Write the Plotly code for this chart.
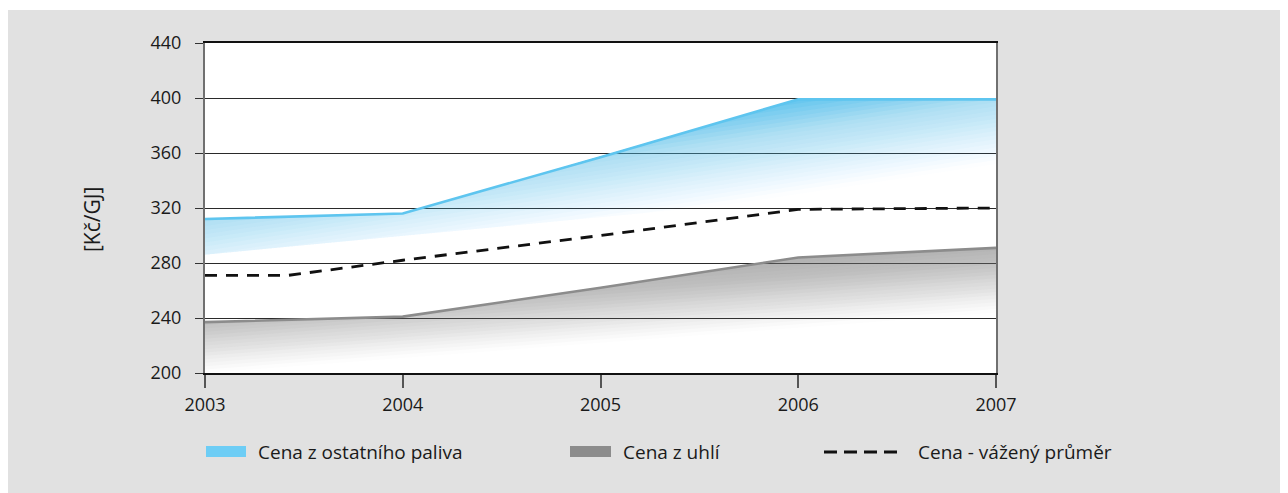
import numpy as np
import plotly.graph_objects as go

# ---------------- data ----------------
years = [2003, 2004, 2005, 2006, 2007]
year_labels = ["2003", "2004", "2005", "2006", "2007"]
price_other = [312, 316, 357, 399, 399]      # Cena z ostatního paliva
price_coal = [237, 241, 262, 284, 291]       # Cena z uhlí
avg_years = [2003, 2003.42, 2004, 2005, 2006, 2007]
price_avg = [271, 271, 282, 300, 319, 320]   # Cena - vážený průměr
y_ticks = [200, 240, 280, 320, 360, 400, 440]
legend_names = ["Cena z ostatního paliva", "Cena z uhlí", "Cena - vážený průměr"]
axis_title = "[Kč/GJ]"

# ---------------- styling ----------------
FONT = "Open Sans"
BLUE = "#5ec5ef"
GRAY = "#8c8c8c"
OFF = 8                     # page body margin of the browser
W, H = 1280, 485
ML, MT = 205 - OFF, 43 - OFF
MR = W - (996 - OFF)
MB = H - (373 - OFF)
PW, PH = W - ML - MR, H - MT - MB


def px_x(px):
    return (px - OFF - ML) / PW


def px_y(py):
    return (H - MB - (py - OFF)) / PH


fig = go.Figure()


def gradient_band(line_y, floor_ends, iso_ends, d_knots, a_knots, rgb, dstep, dmax):
    """Soft diagonal gradient under a line, built from nested translucent fills."""
    xs = np.linspace(years[0], years[-1], 201)
    top = np.interp(xs, years, line_y)
    floor = np.interp(xs, [years[0], years[-1]], floor_ends)
    iso = np.interp(xs, [years[0], years[-1]], iso_ends)
    ds = np.arange(0, dmax + 1e-9, dstep)
    prev = 0.0
    for d in ds:
        dm = min(d + 0.5 * dstep, dmax)
        target = float(np.interp(dm, d_knots, a_knots))
        a = 1 - (1 - target) / (1 - prev)
        prev = target
        if a <= 0.002:
            continue
        low = np.clip(iso + d, floor, top)
        px = np.concatenate([xs, xs[::-1]])
        py = np.concatenate([low, top[::-1]])
        fig.add_trace(go.Scatter(
            x=px, y=py, mode="lines", line=dict(width=0), fill="toself",
            fillcolor=f"rgba({rgb[0]},{rgb[1]},{rgb[2]},{a:.4f})",
            showlegend=False, hoverinfo="skip"))


# blue soft band
gradient_band(price_other, [286, 340], [265, 352],
              [0, 21, 47, 69, 80], [0, 0.19, 0.45, 0.9, 0.92],
              (86, 193, 238), 3, 78)
# gray soft band
gradient_band(price_coal, [200, 244], [200, 244],
              [0, 37, 48, 80], [0, 0.44, 0.52, 0.52],
              (125, 125, 125), 2.5, 55)

# lines
fig.add_trace(go.Scatter(x=years, y=price_other, mode="lines", name=legend_names[0],
                         line=dict(color=BLUE, width=2.6), showlegend=False))
fig.add_trace(go.Scatter(x=years, y=price_coal, mode="lines", name=legend_names[1],
                         line=dict(color=GRAY, width=2.6), showlegend=False))
fig.add_trace(go.Scatter(x=avg_years, y=price_avg, mode="lines", name=legend_names[2],
                         line=dict(color="#111111", width=2.8, dash="12px,9px"),
                         showlegend=False))

shapes = [
    # page gray background
    dict(type="rect", xref="paper", yref="paper", x0=px_x(0), x1=px_x(W + 20),
         y0=px_y(H + 20), y1=px_y(10), fillcolor="#e1e1e1", line=dict(width=0),
         layer="below"),
    # white plot area
    dict(type="rect", xref="paper", yref="paper", x0=0, x1=1, y0=0, y1=1,
         fillcolor="white", line=dict(width=0), layer="below"),
    # legend keys
    dict(type="rect", xref="paper", yref="paper", x0=px_x(206), x1=px_x(246),
         y0=px_y(457), y1=px_y(446), fillcolor="#6dcdf5", line=dict(width=0)),
    dict(type="rect", xref="paper", yref="paper", x0=px_x(570), x1=px_x(611),
         y0=px_y(457), y1=px_y(446), fillcolor=GRAY, line=dict(width=0)),
    dict(type="line", xref="paper", yref="paper", x0=px_x(824), x1=px_x(897),
         y0=px_y(452), y1=px_y(452), line=dict(color="#111111", width=2.8, dash="13px,7px")),
]

annotations = [
    dict(text=legend_names[0], xref="paper", yref="paper", x=px_x(256), y=px_y(452),
         xanchor="left", yanchor="middle", showarrow=False,
         font=dict(family=FONT, size=19, color="#1a1a1a")),
    dict(text=legend_names[1], xref="paper", yref="paper", x=px_x(621), y=px_y(452),
         xanchor="left", yanchor="middle", showarrow=False,
         font=dict(family=FONT, size=19, color="#1a1a1a")),
    dict(text=legend_names[2], xref="paper", yref="paper", x=px_x(916), y=px_y(452),
         xanchor="left", yanchor="middle", showarrow=False,
         font=dict(family=FONT, size=19, color="#1a1a1a")),
    dict(text=axis_title, xref="paper", yref="paper", x=px_x(92), y=px_y(220),
         xanchor="center", yanchor="middle", textangle=-90, showarrow=False,
         font=dict(family=FONT, size=21, color="#1a1a1a")),
]

fig.update_layout(
    width=W, height=H,
    margin=dict(l=ML, r=MR, t=MT, b=MB, pad=0),
    paper_bgcolor="white",
    plot_bgcolor="rgba(0,0,0,0)",
    font=dict(family=FONT, size=18, color="#1a1a1a"),
    showlegend=False,
    shapes=shapes,
    annotations=annotations,
    xaxis=dict(range=[years[0], years[-1]], tickvals=years, ticktext=year_labels,
               showgrid=False, zeroline=False, showline=True, linecolor="#111111",
               linewidth=1.6, mirror=True, ticks="outside", ticklen=13, tickwidth=1.5,
               tickcolor="#555555", ticklabelstandoff=2, automargin=False,
               tickfont=dict(family=FONT, size=18, color="#1a1a1a")),
    yaxis=dict(range=[y_ticks[0], y_ticks[-1]], tickvals=y_ticks, showgrid=True,
               gridcolor="#2a2a2a", gridwidth=1, zeroline=False, showline=True,
               linecolor="#707070", linewidth=2, mirror=True, ticks="outside",
               ticklen=8, tickwidth=1.2, tickcolor="#333333", ticklabelstandoff=10,
               automargin=False, tickfont=dict(family=FONT, size=18, color="#1a1a1a")),
)

fig.write_html("out.html")
